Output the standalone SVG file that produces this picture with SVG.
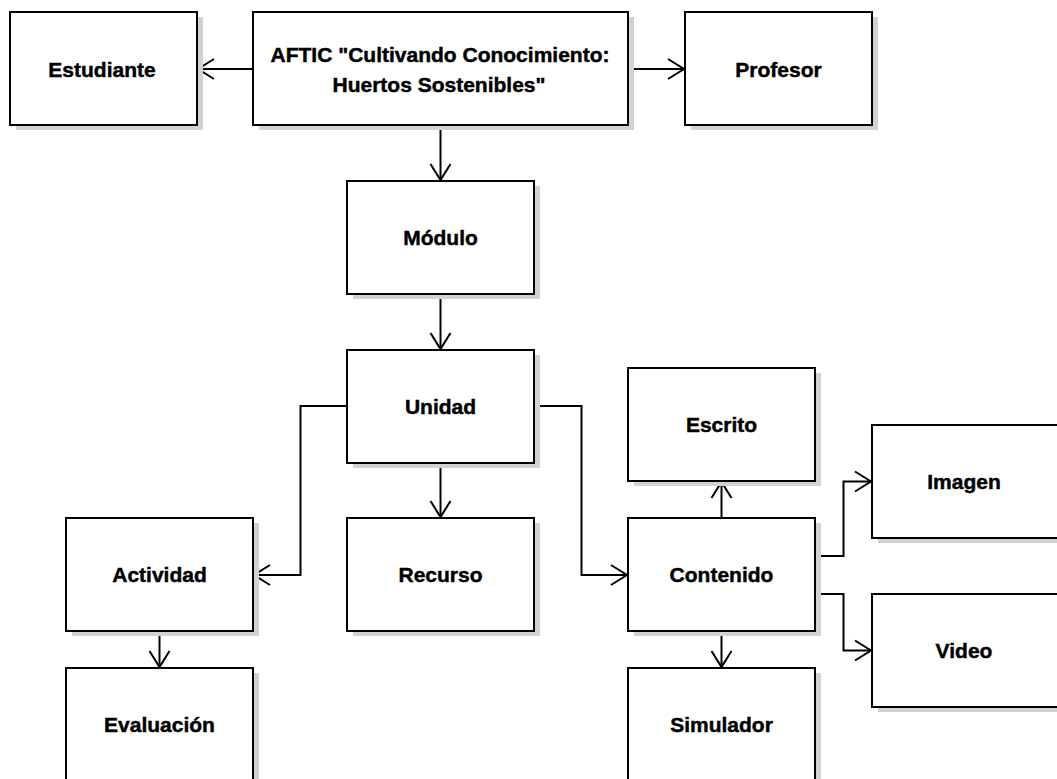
<svg xmlns="http://www.w3.org/2000/svg" width="1057" height="779" viewBox="0 0 1057 779">
  <style>
    .box { fill: #ffffff; stroke: #000000; stroke-width: 2; }
    .shadow { fill: #d2d2d2; stroke: none; }
    .label { font-family: "Liberation Sans", Arial, sans-serif; font-weight: bold; font-size: 21px; fill: #000000; stroke: #000000; stroke-width: 0.45; text-anchor: middle; }
    .edge { fill: none; stroke: #000000; stroke-width: 2; marker-end: url(#open-arrow); }
  </style>
  <defs>
    <marker id="open-arrow" markerUnits="userSpaceOnUse" markerWidth="40" markerHeight="40" viewBox="-20 -20 40 40" refX="0" refY="0" orient="auto">
      <path d="M-16,-10 L0,0 L-16,10" fill="none" stroke="#000000" stroke-width="2"/>
    </marker>
  </defs>

  <rect width="1057" height="779" fill="#ffffff"/>

  <!-- connectors -->
  <g id="connectors">
    <path class="edge" d="M253,69 L198,69"/>
    <path class="edge" d="M628,69 L684,69"/>
    <path class="edge" d="M440.5,125 L440.5,180"/>
    <path class="edge" d="M440.5,294 L440.5,349"/>
    <path class="edge" d="M347,406 L300.5,406 L300.5,575 L254,575"/>
    <path class="edge" d="M440.5,463 L440.5,517"/>
    <path class="edge" d="M534,406 L581.5,406 L581.5,575 L627,575"/>
    <path class="edge" d="M159.5,631 L159.5,667"/>
    <path class="edge" d="M721.5,518 L721.5,482"/>
    <path class="edge" d="M721.5,631 L721.5,667"/>
    <path class="edge" d="M815,556 L843.5,556 L843.5,481.5 L871,481.5"/>
    <path class="edge" d="M815,594 L843.5,594 L843.5,650.5 L871,650.5"/>
  </g>

  <!-- nodes -->
  <g id="node-estudiante">
    <rect class="shadow" x="16" y="17" width="187" height="113"/>
    <rect class="box" x="10" y="12" width="187" height="113"/>
    <text class="label" x="102" y="77">Estudiante</text>
  </g>
  <g id="node-aftic">
    <rect class="shadow" x="259" y="17" width="375" height="113"/>
    <rect class="box" x="253" y="12" width="375" height="113"/>
    <text class="label" x="440" y="62">AFTIC "Cultivando Conocimiento:</text>
    <text class="label" x="439" y="92">Huertos Sostenibles"</text>
  </g>
  <g id="node-profesor">
    <rect class="shadow" x="691" y="17" width="187" height="113"/>
    <rect class="box" x="685" y="12" width="187" height="113"/>
    <text class="label" x="778.5" y="77">Profesor</text>
  </g>
  <g id="node-modulo">
    <rect class="shadow" x="353" y="186" width="187" height="113"/>
    <rect class="box" x="347" y="181" width="187" height="113"/>
    <text class="label" x="440.5" y="245">Módulo</text>
  </g>
  <g id="node-unidad">
    <rect class="shadow" x="353" y="355" width="187" height="113"/>
    <rect class="box" x="347" y="350" width="187" height="113"/>
    <text class="label" x="440.5" y="414">Unidad</text>
  </g>
  <g id="node-recurso">
    <rect class="shadow" x="353" y="523" width="187" height="113"/>
    <rect class="box" x="347" y="518" width="187" height="113"/>
    <text class="label" x="440.5" y="582">Recurso</text>
  </g>
  <g id="node-actividad">
    <rect class="shadow" x="72" y="523" width="187" height="113"/>
    <rect class="box" x="66" y="518" width="187" height="113"/>
    <text class="label" x="159.5" y="582">Actividad</text>
  </g>
  <g id="node-evaluacion">
    <rect class="shadow" x="72" y="673" width="187" height="113"/>
    <rect class="box" x="66" y="668" width="187" height="113"/>
    <text class="label" x="159.5" y="732">Evaluación</text>
  </g>
  <g id="node-escrito">
    <rect class="shadow" x="634" y="373" width="187" height="113"/>
    <rect class="box" x="628" y="368" width="187" height="113"/>
    <text class="label" x="721.5" y="432">Escrito</text>
  </g>
  <g id="node-contenido">
    <rect class="shadow" x="634" y="523" width="187" height="113"/>
    <rect class="box" x="628" y="518" width="187" height="113"/>
    <text class="label" x="721.5" y="582">Contenido</text>
  </g>
  <g id="node-simulador">
    <rect class="shadow" x="634" y="673" width="187" height="113"/>
    <rect class="box" x="628" y="668" width="187" height="113"/>
    <text class="label" x="721.5" y="732">Simulador</text>
  </g>
  <g id="node-imagen">
    <rect class="shadow" x="878" y="430" width="187" height="113"/>
    <rect class="box" x="872" y="425" width="187" height="113"/>
    <text class="label" x="964" y="489">Imagen</text>
  </g>
  <g id="node-video">
    <rect class="shadow" x="878" y="599" width="187" height="113"/>
    <rect class="box" x="872" y="594" width="187" height="113"/>
    <text class="label" x="964" y="658">Video</text>
  </g>
</svg>
